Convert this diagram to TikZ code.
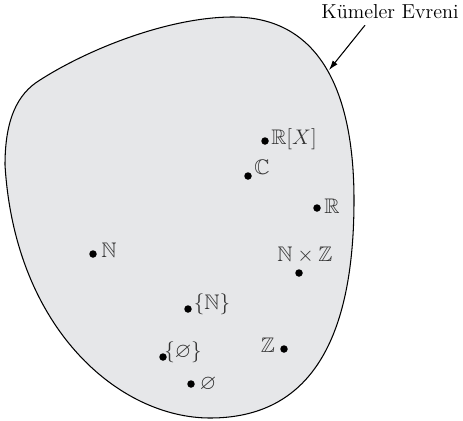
\documentclass[tikz,border=0pt]{standalone}
\usepackage{amsmath,amssymb}
\usetikzlibrary{positioning, arrows.meta}
\definecolor{blobgray}{RGB}{230,231,233}

\begin{document}
\begin{tikzpicture}[x=0.02cm, y=-0.02cm,
  dot/.style={circle, fill=black, inner sep=0pt, minimum size=0.15cm},
  setlbl/.style={inner sep=0pt, text=black!80, font=\fontsize{12}{14}\selectfont}]
  \useasboundingbox (0,0) rectangle (463,420);
  % universe of sets
  \draw[fill=blobgray, line width=0.6pt]
    (233,17) .. controls (330,17) and (354,110) .. (354,200)
    .. controls (354,340) and (310,418) .. (210,418)
    .. controls (120,418) and (15,330) .. (5,165)
    .. controls (5,120) and (17,94) .. (40,80)
    .. controls (90,48) and (170,17) .. cycle;
  % title and arrow
  \node[font=\fontsize{11.5}{14}\selectfont, inner sep=1pt] (evren) at (390,12) {Kümeler Evreni};
  \coordinate (tip) at (329,70);
  \draw[-{Latex[length=5.5pt, width=3.5pt]}, line width=0.6pt]
    ([shift={(-25,4)}]evren.south) -- (tip);
  % points
  \foreach \n/\x/\y in {rx/265/141, c/248/176, r/317/208, n/93/254, nz/299/273,
                        sn/188/309, se/163/357, z/284/349, e/191/384} {
    \node[dot] (\n) at (\x,\y) {};
  }
  % labels
  \node[setlbl] (rxl) at (294,139) {$\mathbb{R}[X]$};
  \node[setlbl] (cl) at (262,167) {$\mathbb{C}$};
  \node[setlbl] (rl) at (332,206) {$\mathbb{R}$};
  \node[setlbl] (nl) at (109,250) {$\mathbb{N}$};
  \node[setlbl] (nzl) at (305,255) {$\mathbb{N}\times\mathbb{Z}$};
  \node[setlbl] (snl) at (212,304) {$\{\mathbb{N}\}$};
  \node[setlbl] (sel) at (183,352) {$\{\varnothing\}$};
  \node[setlbl] (zl) at (268,345) {$\mathbb{Z}$};
  \node[setlbl] (el) at (208,384) {$\varnothing$};
\end{tikzpicture}
\end{document}
